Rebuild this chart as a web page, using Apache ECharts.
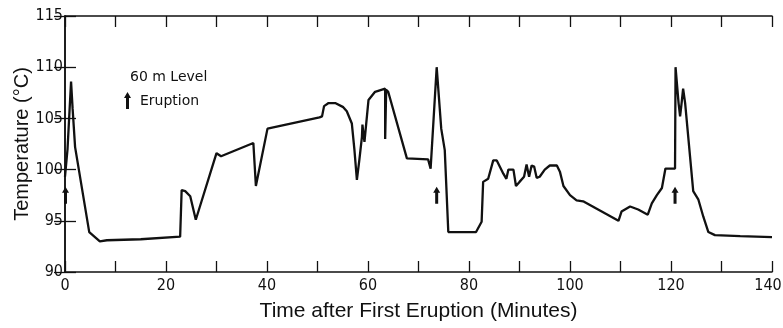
<!DOCTYPE html>
<html><head><meta charset="utf-8">
<script src="https://cdn.jsdelivr.net/npm/echarts@6/dist/echarts.min.js"></script>
<style>html,body{margin:0;padding:0;background:#fff}#c{width:783px;height:328px}</style>
</head><body><div id="c"></div>
<script>
var timeMin = [0,0.5,1.2,1.5,2.0,4.8,6.9,8.3,15,22.8,23.1,23.8,24.8,25.9,30.0,30.9,37.3,37.8,40.1,50.4,50.9,51.3,52.2,53.5,55.1,55.8,56.8,57.3,57.8,58.3,58.8,58.9,59.1,59.3,60.1,61.4,63.4,63.4,63.6,64.0,67.7,71.9,72.4,73.6,74.5,75.2,75.9,81.4,82.5,82.8,83.8,84.8,85.5,86.8,87.4,87.8,88.8,89.3,90.0,90.9,91.4,91.9,92.4,92.9,93.4,94.0,95.0,96.0,97.4,98.0,98.7,100.0,101.3,102.6,109.6,110.2,111.9,113.5,115.4,116.2,117.2,118.2,118.9,120.8,120.9,121.5,121.8,122.1,122.4,122.8,124.4,125.4,126.4,127.4,128.7,133.7,140];
var tempC = [99.3,102,108.6,106,102.2,93.9,93.0,93.1,93.2,93.45,98.0,97.9,97.4,95.1,101.6,101.3,102.6,98.4,104.0,105.1,105.2,106.2,106.5,106.5,106.1,105.7,104.5,102,99.0,101,103.2,104.4,103.5,102.7,106.8,107.6,107.9,103.0,107.8,107.6,101.1,101.0,100.1,110.0,104,101.9,93.9,93.9,94.9,98.8,99.1,100.9,100.9,99.6,99.1,100.0,100.0,98.4,98.8,99.3,100.5,99.3,100.4,100.3,99.2,99.3,100.0,100.4,100.4,99.8,98.4,97.5,97.0,96.9,95.0,95.9,96.4,96.1,95.6,96.7,97.5,98.2,100.1,100.1,110.0,106.5,105.2,106.5,107.9,106.5,97.9,97.1,95.4,93.9,93.6,93.5,93.4];
var eruptionTimes = [0.1, 73.6, 120.8];
var eruptionMark = [97.5, 97.5, 97.5];
var xTickLabels = [0,20,40,60,80,100,120,140];
var yTickLabels = [90,95,100,105,110,115];

var pts = timeMin.map(function(t,i){return [t,tempC[i]];});
var arrows = eruptionTimes.map(function(t,i){return [t,eruptionMark[i]];});
var numFont = "'Liberation Sans Narrow','DejaVu Sans Condensed','Liberation Sans',sans-serif";
var titleFont = "'Liberation Sans','Arial',sans-serif";
var chart = echarts.init(document.getElementById('c'));
var axisLine = {show:true, lineStyle:{color:'#111', width:1.5}};
var tick = {show:true, inside:true, length:11, lineStyle:{color:'#111', width:1.3}};
var arrowPath = 'path://M3.5,0 L7,6 L5,6 L5,17 L2,17 L2,6 L0,6 Z';
var lastX = xTickLabels[xTickLabels.length-1];
chart.setOption({
  animation:false,
  backgroundColor:'#fff',
  grid:{left:65, right:11, top:16, bottom:56, containLabel:false, outerBoundsMode:'none'},
  xAxis:[
    {type:'value', min:0, max:140, interval:10, position:'bottom',
     axisLine:axisLine, axisTick:tick, splitLine:{show:false},
     axisLabel:{color:'#111', fontFamily:numFont, fontSize:16, margin:6,
       rich:{r:{color:'#111', fontFamily:numFont, fontSize:16, padding:[0,8,0,0]}},
       formatter:function(v){
         if (xTickLabels.indexOf(v)<0) return '';
         return v===lastX ? '{r|'+v+'}' : String(v);}},
     name:'Time after First Eruption (Minutes)', nameLocation:'middle', nameGap:29, nameMoveOverlap:false,
     nameTextStyle:{color:'#111', fontFamily:titleFont, fontSize:21}},
    {type:'value', min:0, max:140, interval:10, position:'top',
     axisLine:axisLine, axisTick:tick, axisLabel:{show:false}, splitLine:{show:false}}
  ],
  yAxis:[
    {type:'value', min:90, max:115, interval:5, position:'left',
     axisLine:axisLine, axisTick:tick, splitLine:{show:false},
     axisLabel:{color:'#111', fontFamily:numFont, fontSize:16, margin:2,
       formatter:function(v){return yTickLabels.indexOf(v)>=0? String(v):'';}},
     name:'Temperature (°C)', nameLocation:'middle', nameGap:33, nameMoveOverlap:false,
     nameTextStyle:{color:'#111', fontFamily:titleFont, fontSize:20}},
    {type:'value', min:90, max:115, interval:5, position:'right',
     axisLine:axisLine, axisTick:tick, axisLabel:{show:false}, splitLine:{show:false}}
  ],
  series:[
    {type:'line', data:pts, showSymbol:false, symbol:'none',
     lineStyle:{color:'#111', width:2.3}},
    {type:'scatter', data:arrows, symbol:arrowPath,
     symbolSize:[7,17], itemStyle:{color:'#111', opacity:1}, z:5}
  ],
  graphic:[
    {type:'text', left:130, top:70, style:{text:'60 m Level', fill:'#111', font:"14px 'DejaVu Sans',sans-serif"}},
    {type:'polygon', shape:{points:[[127.5,92],[131,98],[129,98],[129,109],[126,109],[126,98],[124,98]]}, style:{fill:'#111'}},
    {type:'text', left:140, top:94, style:{text:'Eruption', fill:'#111', font:"14px 'DejaVu Sans',sans-serif"}}
  ]
});
</script></body></html>
